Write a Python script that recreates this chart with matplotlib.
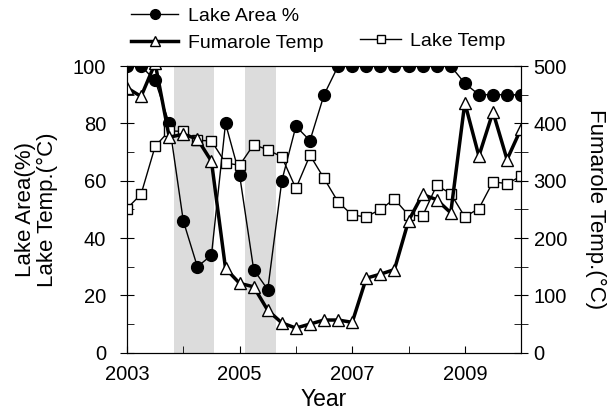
import matplotlib
matplotlib.use("Agg")
import matplotlib.pyplot as plt
from matplotlib.ticker import MultipleLocator
import numpy as np

plt.rcParams['font.family'] = ['Liberation Sans', 'DejaVu Sans']

# quarterly samples, 2003.0 .. 2010.0
years = 2003 + 0.25 * np.arange(29)

lake_area = [100, 100, 95, 80, 46, 30, 34, 80, 62, 29, 22, 60, 79, 74, 90,
             100, 100, 100, 100, 100, 100, 100, 100, 100, 94, 90, 90, 90, 90]
fumarole_temp = [462, 447, 505, 376, 381, 373, 334, 147, 121, 115, 74, 52, 43,
                 50, 57, 57, 53, 130, 137, 145, 230, 276, 267, 244, 436, 343,
                 420, 337, 391]
lake_temp = [50.3, 55.3, 72, 77.4, 77.2, 74.1, 73.9, 66.2, 65.4, 72.6, 70.8,
             68.3, 57.3, 68.9, 60.8, 52.6, 48, 47.4, 50, 53.6, 48, 47.7, 58.4,
             55.5, 47.4, 50.3, 59.6, 59, 61.6]

bands = [(2003.84, 2004.55), (2005.10, 2005.65)]

fig = plt.figure(figsize=(6.12, 4.13), dpi=100)
ax1 = fig.add_axes([0.2075, 0.146, 0.644, 0.694])
ax2 = ax1.twinx()

for b in bands:
    ax1.axvspan(b[0], b[1], color='#dcdcdc', lw=0, zorder=0)

l_area, = ax1.plot(years, lake_area, '-o', color='black', lw=1, ms=8.5,
                   label='Lake Area %', zorder=3)
l_temp, = ax1.plot(years, lake_temp, '-s', color='black', lw=1, ms=7.5,
                   mfc='white', mec='black', mew=1, label='Lake Temp', zorder=3)
l_fum, = ax2.plot(years, fumarole_temp, '-^', color='black', lw=2.5, ms=8,
                  mfc='white', mec='black', mew=1, label='Fumarole Temp')

ax1.set_xlim(2003, 2010)
ax1.set_ylim(0, 100)
ax2.set_ylim(0, 500)

ax1.set_xticks([2003, 2005, 2007, 2009])
ax1.xaxis.set_minor_locator(MultipleLocator(1))
ax1.yaxis.set_major_locator(MultipleLocator(20))
ax1.yaxis.set_minor_locator(MultipleLocator(10))
ax2.yaxis.set_major_locator(MultipleLocator(100))
ax2.yaxis.set_minor_locator(MultipleLocator(50))

ax1.tick_params(axis='x', which='both', direction='in', length=5, labelsize=14.5, pad=9)
ax1.tick_params(axis='y', which='major', direction='inout', length=10, labelsize=14.5, pad=10)
ax1.tick_params(axis='y', which='minor', direction='in', length=5)
ax2.tick_params(axis='y', which='both', direction='inout', length=10, labelsize=14.5, pad=4)

ax1.set_xlabel('Year', fontsize=16.5, labelpad=3)
ax1.set_ylabel('Lake Area(%)\nLake Temp.(\u00b0C)', fontsize=16, labelpad=11,
               linespacing=1.05)
ax2.set_ylabel('Fumarole Temp.(\u00b0C)', fontsize=16, rotation=270, labelpad=28)

leg1 = fig.legend(handles=[l_area, l_fum], loc='upper left',
                  bbox_to_anchor=(0.186, 1.024), frameon=False, fontsize=14,
                  handlelength=2.4, labelspacing=0.45, handletextpad=0.5)
leg2 = fig.legend(handles=[l_temp], loc='upper left', bbox_to_anchor=(0.56, 0.965),
                  frameon=False, fontsize=14, handlelength=2.1, handletextpad=0.45)
for h in leg1.legend_handles:
    h.set_markersize(7)
leg2.legend_handles[0].set_markersize(6)

fig.savefig('out.png', dpi=100)
